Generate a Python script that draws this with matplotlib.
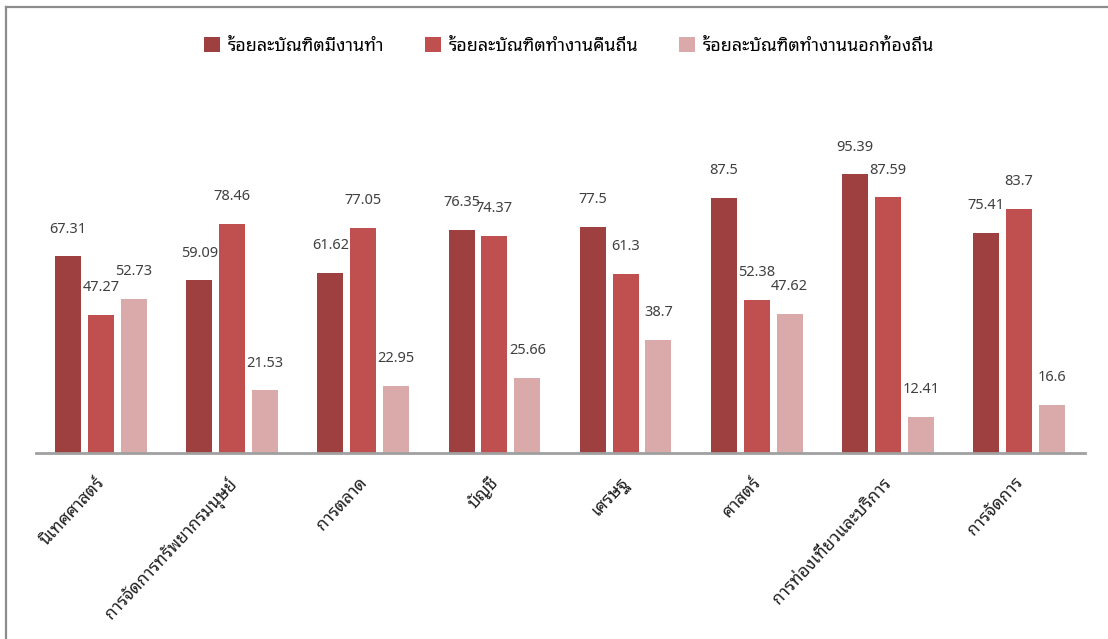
import numpy as np
import matplotlib
matplotlib.use('Agg')
import matplotlib.pyplot as plt
from matplotlib.lines import Line2D
from matplotlib.transforms import ScaledTranslation

plt.rcParams['font.family'] = ['Noto Sans Thai Looped', 'Noto Sans', 'DejaVu Sans']

categories = ['นิเทศศาสตร์', 'การจัดการทรัพยากรมนุษย์', 'การตลาด', 'บัญชี',
              'เศรษฐ', 'ศาสตร์', 'การท่องเที่ยวและบริการ', 'การจัดการ']
series_names = ['ร้อยละบัณฑิตมีงานทำ', 'ร้อยละบัณฑิตทำงานคืนถิ่น', 'ร้อยละบัณฑิตทำงานนอกท้องถิ่น']
employed = [67.31, 59.09, 61.62, 76.35, 77.5, 87.5, 95.39, 75.41]
local = [47.27, 78.46, 77.05, 74.37, 61.3, 52.38, 87.59, 83.7]
outside = [52.73, 21.53, 22.95, 25.66, 38.7, 47.62, 12.41, 16.6]
colors = ['#9E4040', '#C05050', '#DAAAAA']

W, H = 1108, 639
fig = plt.figure(figsize=(W / 100, H / 100), dpi=100)
# axes placed in pixels: baseline at y=453, x from 35.5 to 1084.5
ax = fig.add_axes([35.5 / W, (H - 453) / H, 1049 / W, 292 / H])

x = np.arange(len(categories))
bw = 0.198
step = 0.251
for k, (vals, c) in enumerate(zip([employed, local, outside], colors)):
    pos = x + (k - 1) * step
    ax.bar(pos, vals, width=bw, color=c, label=series_names[k], zorder=2)
    for p, v in zip(pos, vals):
        ax.annotate(f'{v:g}', (p, v), xytext=(0, 19.5), textcoords='offset points',
                    ha='center', va='center', fontsize=10.5, color='#404040',
                    family=['Noto Sans', 'DejaVu Sans'])

ax.set_xlim(-0.5, len(categories) - 0.5)
ax.set_ylim(0, 100)
for s in ['top', 'right', 'left']:
    ax.spines[s].set_visible(False)
ax.spines['bottom'].set_color('#A0A0A0')
ax.spines['bottom'].set_linewidth(2)
ax.set_yticks([])
ax.set_xticks(x)
ax.set_xticklabels(categories, rotation=47, ha='right', va='top',
                   rotation_mode='anchor', fontsize=12.5, color='#202020')
ax.tick_params(axis='x', length=0, pad=15)
shift = ScaledTranslation(-6 / 100, 0, fig.dpi_scale_trans)
for lab in ax.get_xticklabels():
    lab.set_transform(lab.get_transform() + shift)

ax.legend(loc='center', bbox_to_anchor=(569 / W, 1 - 46 / H),
          bbox_transform=fig.transFigure, ncol=3, frameon=False,
          fontsize=12.9, handlelength=0.9, handleheight=0.9,
          handletextpad=0.4, columnspacing=2.3)

# outer frame of the chart area (top and left edges visible)
fig.add_artist(Line2D([6 / W, 1], [1 - 6.5 / H, 1 - 6.5 / H],
                      transform=fig.transFigure, color='#8C8C8C', lw=1.6))
fig.add_artist(Line2D([5.5 / W, 5.5 / W], [0, 1 - 6.5 / H],
                      transform=fig.transFigure, color='#8C8C8C', lw=1.6))

fig.savefig('out.png', dpi=100)
